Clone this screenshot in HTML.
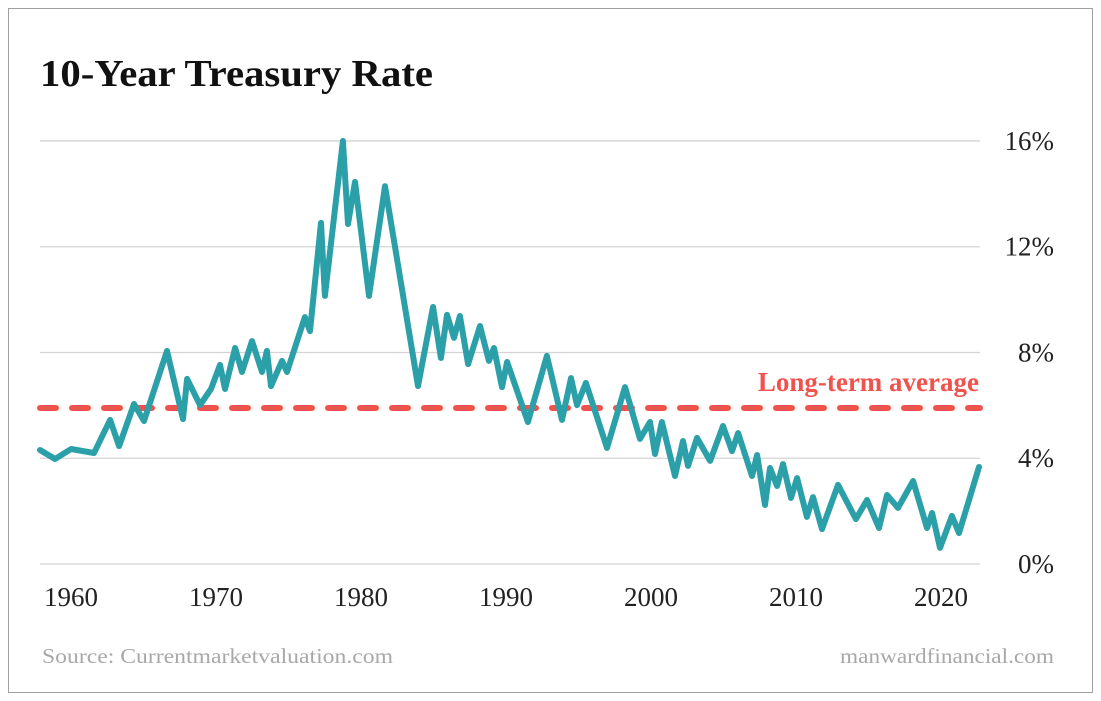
<!DOCTYPE html>
<html><head><meta charset="utf-8"><style>
body{margin:0;background:#fff;}
#wrap{position:relative;width:1101px;height:701px;overflow:hidden;}
svg text{font-family:"Liberation Serif",serif;}
</style></head><body>
<div id="wrap">
<svg id="chart" width="1101" height="701">
<rect x="8.5" y="8.5" width="1084" height="684" fill="#fff" stroke="#a0a0a0" stroke-width="1"/>
<text x="40" y="86" font-size="38" font-weight="bold" fill="#111" textLength="393" lengthAdjust="spacingAndGlyphs">10-Year Treasury Rate</text>
<g id="grid"></g>
<g id="yticks"></g>
<g id="xticks"></g>
<g id="avg"></g>
<g id="series"></g>
<text x="42" y="663" font-size="21" fill="#a8a8a8" textLength="351" lengthAdjust="spacingAndGlyphs">Source: Currentmarketvaluation.com</text>
<text x="840" y="663" font-size="21" fill="#a8a8a8" textLength="214" lengthAdjust="spacingAndGlyphs">manwardfinancial.com</text>
</svg>
</div>
<script>
const years=[1957.45,1958.48,1959.59,1961.17,1962.28,1962.9,1963.93,1964.62,1966.21,1967.31,1967.59,1968.48,1969.24,1969.86,1970.21,1970.9,1971.38,1972.07,1972.76,1973.1,1973.38,1974.14,1974.48,1975.72,1976.07,1976.83,1977.1,1978.34,1978.69,1979.17,1980.14,1981.24,1983.52,1984.55,1985.1,1985.52,1986.0,1986.41,1986.97,1987.79,1988.41,1988.76,1989.31,1989.66,1991.1,1992.41,1993.45,1994.07,1994.48,1995.1,1996.55,1997.79,1998.83,1999.52,1999.86,2000.34,2001.24,2001.79,2002.14,2002.76,2003.66,2004.55,2005.17,2005.59,2006.55,2006.9,2007.45,2007.79,2008.28,2008.69,2009.24,2009.66,2010.34,2010.76,2011.38,2012.48,2013.72,2014.48,2015.31,2015.86,2016.62,2017.66,2018.62,2018.97,2019.52,2020.34,2020.83,2022.21];
const rates=[4.31,3.97,4.35,4.20,5.45,4.46,6.05,5.41,8.06,5.48,7.0,6.01,6.62,7.53,6.62,8.17,7.26,8.43,7.26,8.06,6.73,7.68,7.26,9.34,8.81,12.9,10.14,16.0,12.86,14.45,10.14,14.29,6.73,9.72,7.79,9.42,8.55,9.38,7.56,9.0,7.68,8.17,6.69,7.64,5.37,7.87,5.45,7.03,6.01,6.85,4.39,6.69,4.73,5.37,4.16,5.37,3.33,4.65,3.71,4.77,3.90,5.22,4.27,4.95,3.33,4.12,2.23,3.63,2.95,3.78,2.50,3.25,1.78,2.53,1.32,2.99,1.70,2.42,1.36,2.61,2.12,3.14,1.36,1.93,0.61,1.82,1.17,3.67];
const yTicks=[0,4,8,12,16];
const yTickLabels=["0%","4%","8%","12%","16%"];
const xTicks=[1960,1970,1980,1990,2000,2010,2020];
const average=[5.9];
const NS="http://www.w3.org/2000/svg";
function xs(y){return 77+(y-1960)*14.5;}
function ys(v){return 564-v*26.44;}
function mk(tag,attrs,parent){const e=document.createElementNS(NS,tag);for(const k in attrs)e.setAttribute(k,attrs[k]);document.getElementById(parent).appendChild(e);return e;}
yTicks.forEach((t,i)=>{
  const l=mk('line',{x1:40,x2:980,y1:ys(t),y2:ys(t),stroke:'#d4d4d4','stroke-width':1.3},'grid');
  
  
  const tx=mk('text',{x:1054,y:ys(t)+9,'font-size':27,fill:'#222','text-anchor':'end'},'yticks');
  tx.textContent=yTickLabels[i];
  
  
});
xTicks.forEach(t=>{
  const tx=mk('text',{x:xs(t)-6,y:606,'font-size':27,fill:'#222','text-anchor':'middle'},'xticks');
  tx.textContent=t;
  
  
});
const al=mk('line',{x1:40,x2:980,y1:ys(average[0]),y2:ys(average[0]),stroke:'#f0524e','stroke-width':6,'stroke-dasharray':'16 16','stroke-linecap':'round'},'avg');


const at=mk('text',{x:979,y:ys(average[0])-17,'font-size':27,'font-weight':'bold',fill:'#f0524e','text-anchor':'end'},'avg');
at.textContent='Long-term average';


const pts=years.map((y,i)=>xs(y).toFixed(1)+','+ys(rates[i]).toFixed(1)).join(' ');
const pl=mk('polyline',{points:pts,fill:'none',stroke:'#2ca0a8','stroke-width':6,'stroke-linejoin':'round','stroke-linecap':'round'},'series');


</script>
</body></html>
